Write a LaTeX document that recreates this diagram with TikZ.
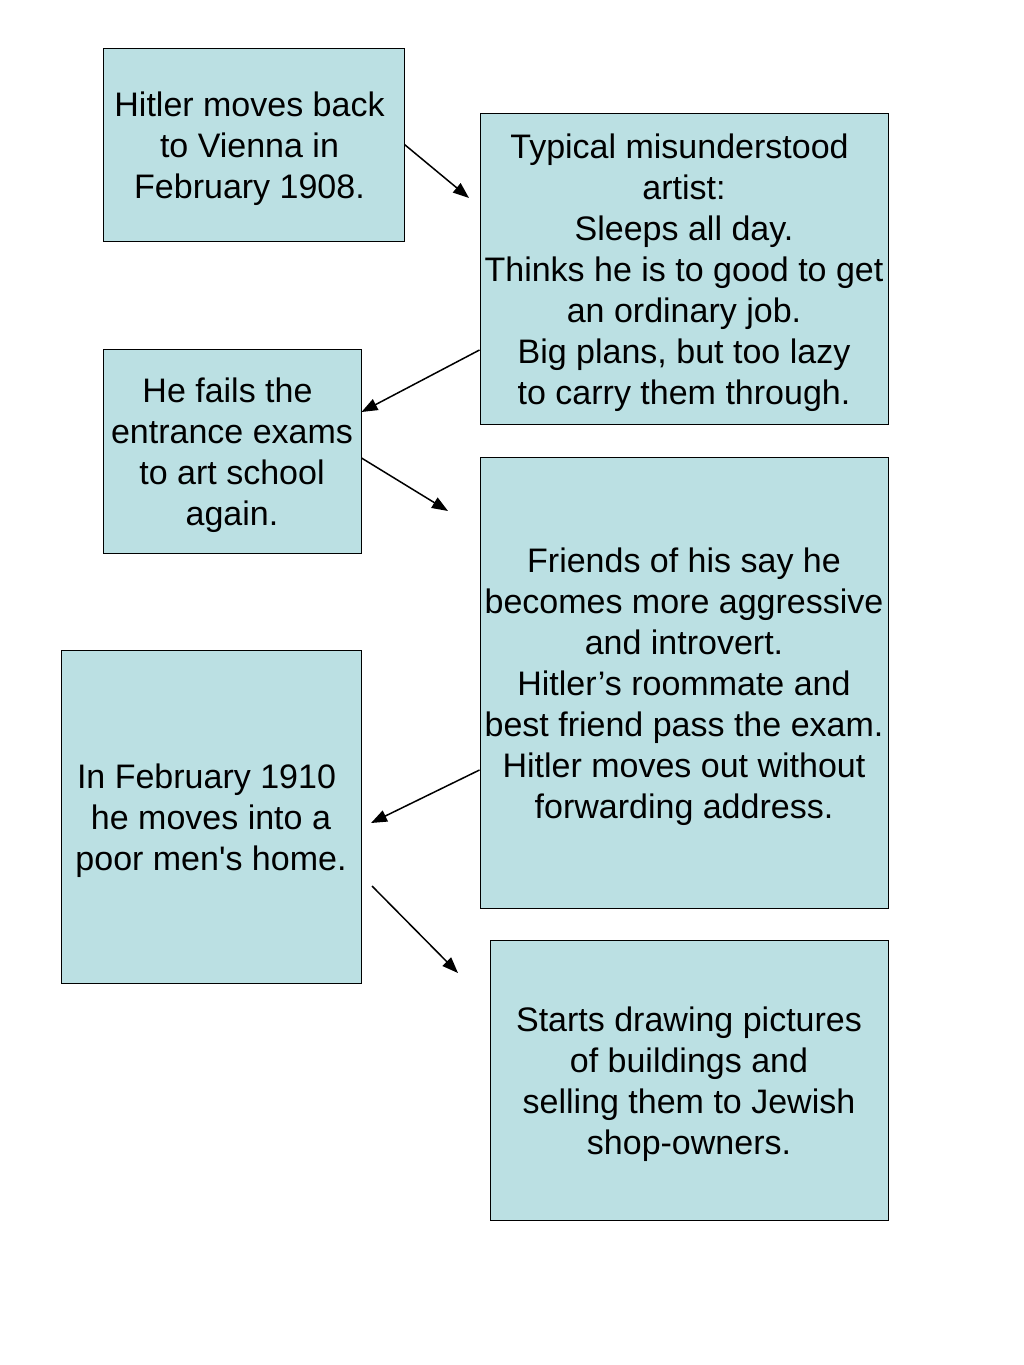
\documentclass[tikz,border=0pt]{standalone}
\usepackage{fontspec}
\setmainfont{Liberation Sans}[Ligatures=TeXOff]
\usetikzlibrary{arrows.meta}
\definecolor{boxfill}{HTML}{BBE0E3}
\newcommand{\tsp}{\hspace*{9pt}}
\tikzset{
  box/.style={draw=black, line width=1pt, fill=boxfill, rectangle, inner sep=0pt},
  txt/.style={inner sep=0pt, align=center, yshift=-4pt, font=\fontsize{34}{41}\selectfont},
  arr/.style={line width=1.5pt, -{Triangle[length=16pt,width=12pt]}}
}
\begin{document}
\begin{tikzpicture}[x=1pt,y=-1pt]
\useasboundingbox (0,0) rectangle (1024,1365);
\node[box, minimum width=301pt, minimum height=193pt,
  label={[txt,xshift=-4pt]center:Hitler moves back\\to Vienna in\\February 1908.}] (b1) at (253.5,144.5) {};
\node[box, minimum width=408pt, minimum height=311pt,
  label={[txt]center:Typical misunderstood\tsp\\artist:\\Sleeps all day.\\Thinks he is to good to get\\an ordinary job.\\Big plans, but too lazy\\to carry them through.}] (b2) at (684,268.5) {};
\node[box, minimum width=258pt, minimum height=204pt,
  label={[txt]center:He fails the\tsp\\entrance exams\\to art school\\again.}] (b3) at (232,451) {};
\node[box, minimum width=408pt, minimum height=451pt,
  label={[txt]center:Friends of his say he\\becomes more aggressive\\and introvert.\\Hitler’s roommate and\tsp\\best friend pass the exam.\\Hitler moves out without\tsp\\forwarding address.}] (b4) at (684,682.5) {};
\node[box, minimum width=300pt, minimum height=333pt,
  label={[txt]center:In February 1910\tsp\\he moves into a\tsp\\poor men's home.}] (b5) at (211,816.5) {};
\node[box, minimum width=398pt, minimum height=280pt,
  label={[txt]center:Starts drawing pictures\\of buildings and\tsp\\selling them to Jewish\tsp\\shop-owners.}] (b6) at (689,1080) {};
\coordinate (e1) at (469,198);
\coordinate (e3) at (448,511);
\coordinate (e4) at (371,823);
\coordinate (s5) at (372,886);
\coordinate (e5) at (458,973);
\draw[arr] (b1.east) -- (e1);
\draw[arr] ([yshift=-81.5pt]b2.west) -- ([yshift=39pt]b3.east);
\draw[arr] ([yshift=-7pt]b3.east) -- (e3);
\draw[arr] ([yshift=-87.5pt]b4.west) -- (e4);
\draw[arr] (s5) -- (e5);
\end{tikzpicture}
\end{document}
